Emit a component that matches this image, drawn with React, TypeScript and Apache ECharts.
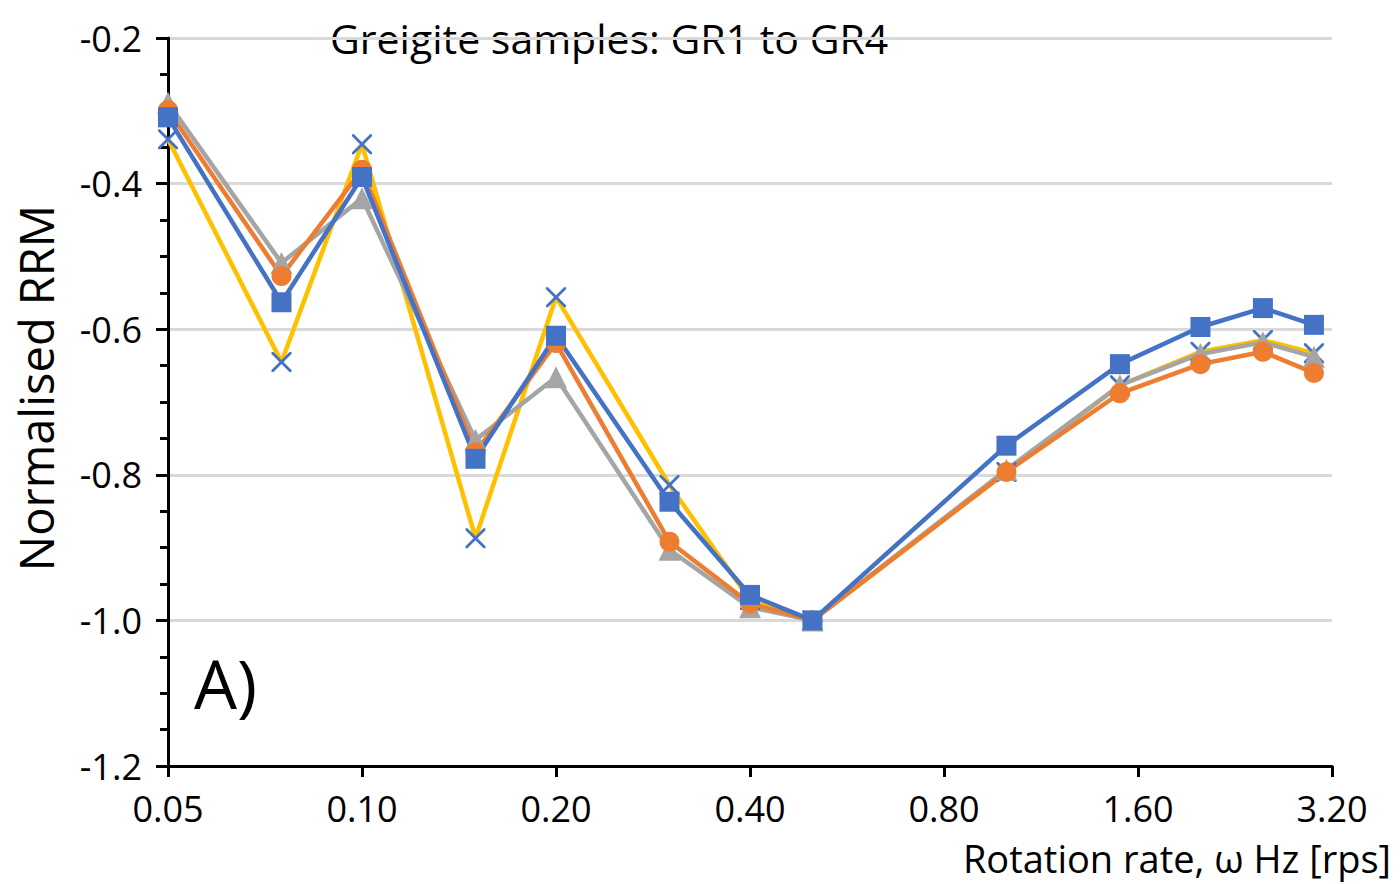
import React, { useEffect, useRef } from "react";
import * as echarts from "echarts";

const rates = [0.05, 0.075, 0.1, 0.15, 0.2, 0.3, 0.4, 0.5, 1.0, 1.5, 2.0, 2.5, 3.0];
const xTicks = [0.05, 0.1, 0.2, 0.4, 0.8, 1.6, 3.2];
const gr1 = [-0.309, -0.563, -0.391, -0.778, -0.609, -0.837, -0.965, -1.0, -0.76, -0.648, -0.597, -0.571, -0.594];
const gr2 = [-0.299, -0.527, -0.381, -0.769, -0.619, -0.892, -0.977, -1.0, -0.796, -0.688, -0.648, -0.631, -0.66];
const gr3 = [-0.289, -0.509, -0.42, -0.752, -0.666, -0.903, -0.982, -1.0, -0.793, -0.677, -0.634, -0.618, -0.638];
const gr4 = [-0.339, -0.645, -0.346, -0.887, -0.556, -0.814, -0.972, -1.0, -0.796, -0.677, -0.631, -0.615, -0.633];

const FONT = "'Open Sans', 'Noto Sans', sans-serif";
const BASE = xTicks[0];
const toX = (r: number) => Math.log2(r / BASE);
const pts = (ys: number[]) => rates.map((r, i) => [toX(r), ys[i]]);

const CROSS =
  "path://M0,0 L2,0 L10,8 L18,0 L20,0 L20,2 L12,10 L20,18 L20,20 L18,20 L10,12 L2,20 L0,20 L0,18 L8,10 L0,2 Z";

export default function App() {
  const ref = useRef<HTMLDivElement>(null);
  useEffect(() => {
    if (!ref.current) return;
    const chart = echarts.init(ref.current, null, { renderer: "svg" });
    const line = (name: string, data: number[], color: string, symbol: string, size: number, markerColor?: string) => ({
      name,
      type: "line",
      data: pts(data),
      symbol,
      symbolSize: size,
      showAllSymbol: true,
      lineStyle: { color, width: 4.5 },
      itemStyle: { color: markerColor || color, borderWidth: 0 },
      emphasis: { disabled: true },
    });
    chart.setOption({
      animation: false,
      backgroundColor: "#ffffff",
      grid: { left: 168, right: 68, top: 38, bottom: 118, containLabel: false },
      xAxis: {
        type: "value",
        min: 0,
        max: toX(xTicks[xTicks.length - 1]),
        interval: 1,
        axisLine: { show: true, lineStyle: { color: "#000", width: 3 } },
        axisTick: { show: true, length: 11, lineStyle: { color: "#000", width: 3 } },
        splitLine: { show: false },
        axisLabel: {
          margin: 24,
          fontSize: 36,
          lineHeight: 36,
          fontFamily: FONT,
          color: "#000",
          formatter: (v: number) => (BASE * Math.pow(2, v)).toFixed(2),
        },
      },
      yAxis: {
        type: "value",
        min: -1.2,
        max: -0.2,
        interval: 0.2,
        axisLine: { show: true, onZero: false, lineStyle: { color: "#000", width: 3 } },
        axisTick: { show: true, length: 12, lineStyle: { color: "#000", width: 3 } },
        minorTick: { show: true, splitNumber: 4, length: 8, lineStyle: { color: "#000", width: 3 } },
        splitLine: { show: true, lineStyle: { color: "#d9d9d9", width: 3 } },
        axisLabel: {
          margin: 26,
          fontSize: 36,
          fontFamily: FONT,
          color: "#000",
          formatter: (v: number) => v.toFixed(1),
        },
      },
      graphic: [
        {
          type: "text",
          x: 330,
          y: 38,
          z: -1,
          style: {
            text: "Greigite samples: GR1 to GR4",
            fontSize: 41,
            fontFamily: FONT,
            fill: "#000",
            verticalAlign: "middle",
          },
        },
        {
          type: "text",
          x: 36,
          y: 388,
          rotation: Math.PI / 2,
          style: {
            text: "Normalised RRM",
            fontSize: 47,
            fontFamily: FONT,
            fill: "#000",
            align: "center",
            verticalAlign: "middle",
          },
        },
        {
          type: "text",
          x: 1391,
          y: 858,
          style: {
            text: "Rotation rate, ω Hz [rps]",
            fontSize: 38,
            lineHeight: 38,
            fontFamily: FONT,
            fill: "#000",
            align: "right",
            verticalAlign: "middle",
          },
        },
        {
          type: "text",
          left: 194,
          top: 648,
          style: { text: "A)", fontSize: 68, fontFamily: FONT, fill: "#000" },
        },
      ],
      series: [
        line("GR4", gr4, "#FFC000", CROSS, 20, "#4472C4"),
        line("GR3", gr3, "#A5A5A5", "triangle", 22),
        line("GR2", gr2, "#ED7D31", "circle", 20),
        line("GR1", gr1, "#4472C4", "rect", 20),
      ],
    });
    return () => chart.dispose();
  }, []);
  return <div ref={ref} style={{ position: "fixed", left: 0, top: 0, width: 1400, height: 884 }} />;
}
